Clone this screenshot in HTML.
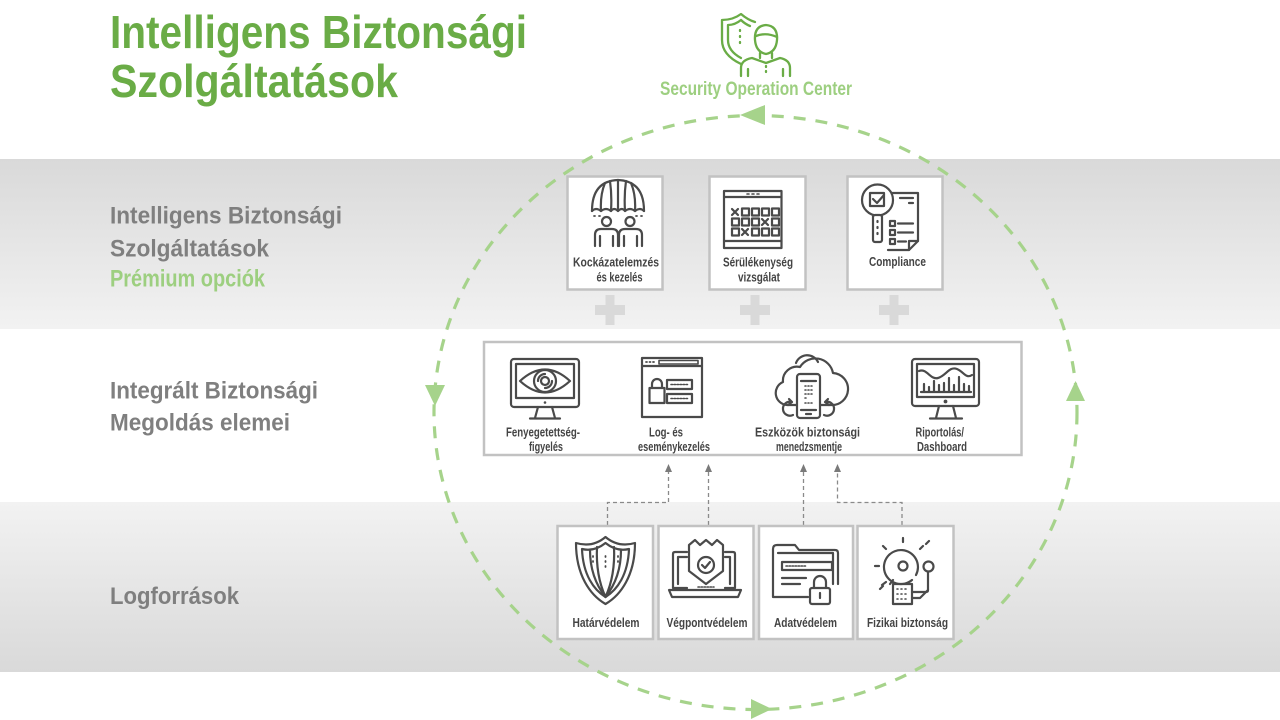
<!DOCTYPE html>
<html><head><meta charset="utf-8"><style>
html,body{margin:0;padding:0;background:#fff;}
svg{display:block;}
text{font-family:"Liberation Sans",sans-serif;font-weight:bold;}
</style></head><body>
<svg width="1280" height="720" viewBox="0 0 1280 720" xmlns="http://www.w3.org/2000/svg">
<defs>
<linearGradient id="g1" x1="0" y1="0" x2="0" y2="1"><stop offset="0" stop-color="#d9d9d9"/><stop offset="1" stop-color="#f2f2f2"/></linearGradient>
<linearGradient id="g2" x1="0" y1="0" x2="0" y2="1"><stop offset="0" stop-color="#f2f2f2"/><stop offset="1" stop-color="#d9d9d9"/></linearGradient>
</defs>
<rect x="0" y="0" width="1280" height="720" fill="#fff"/>
<rect x="0" y="159" width="1280" height="170" fill="url(#g1)"/>
<rect x="0" y="502" width="1280" height="170" fill="url(#g2)"/>

<!-- Title -->
<text x="110" y="48" font-size="46" fill="#6aac46" textLength="417" lengthAdjust="spacingAndGlyphs">Intelligens Biztonsági</text>
<text x="110" y="97" font-size="46" fill="#6aac46" textLength="288" lengthAdjust="spacingAndGlyphs">Szolgáltatások</text>

<!-- Left labels -->
<text x="110" y="223.5" font-size="24" fill="#7f7f7f" textLength="232" lengthAdjust="spacingAndGlyphs">Intelligens Biztonsági</text>
<text x="110" y="256.5" font-size="24" fill="#7f7f7f" textLength="159" lengthAdjust="spacingAndGlyphs">Szolgáltatások</text>
<text x="110" y="286.5" font-size="24" fill="#9dcf80" textLength="155" lengthAdjust="spacingAndGlyphs">Prémium opciók</text>
<text x="110" y="398.5" font-size="24" fill="#7f7f7f" textLength="208" lengthAdjust="spacingAndGlyphs">Integrált Biztonsági</text>
<text x="110" y="430.5" font-size="24" fill="#7f7f7f" textLength="180" lengthAdjust="spacingAndGlyphs">Megoldás elemei</text>
<text x="110" y="604" font-size="24" fill="#7f7f7f" textLength="129" lengthAdjust="spacingAndGlyphs">Logforrások</text>

<!-- Dashed cycle ellipse -->
<ellipse cx="755.5" cy="412.5" rx="321.5" ry="297" fill="none" stroke="#a6d38b" stroke-width="3.2" stroke-dasharray="12 10"/>
<g fill="#a6d38b">
<polygon points="740,115 765,105 765,125"/>
<polygon points="425,385 445,385 435,406"/>
<polygon points="751,699 751,719 772,709"/>
<polygon points="1066,401 1085,401 1075.5,381"/>
</g>

<!-- SOC icon -->
<g fill="none" stroke="#6aac46" stroke-width="2.3" stroke-linecap="round" stroke-linejoin="round">
<path d="M755 22 Q748 20 741 14 Q733 20 722 20 V40 Q722 55 741 64"/>
<path d="M750 26 Q745 24 741 20 Q735 25 728 25 V40 Q728 51 741 58"/>
<path d="M740 30 V31 M740 36 V37 M740 42 V43"/>
<path d="M755 40 Q754 26 766 25 Q778 26 777 40 Q776 52 766 54 Q756 52 755 40 Z"/>
<path d="M756 36 Q766 32 777 37"/>
<path d="M760 53 V58 M772 53 V58"/>
<path d="M741 76 V68 Q741 60 752 58 L766 63 L780 58 Q790 60 790 68 V76"/>
<path d="M748 76 V69 M783 76 V69"/>
<path d="M766 66 V67 M766 71 V72"/>
</g>
<text x="660" y="95" font-size="19" fill="#9dcf80" textLength="192" lengthAdjust="spacingAndGlyphs">Security Operation Center</text>

<!-- Top boxes -->
<g fill="#fff" stroke="#c2c2c2" stroke-width="2.5">
<rect x="567.5" y="176.5" width="95" height="113"/>
<rect x="709.5" y="176.5" width="96" height="113"/>
<rect x="847.5" y="176.5" width="95" height="113"/>
</g>
<!-- plus signs -->
<g fill="#d9d9d9">
<rect x="595" y="305" width="30" height="10"/><rect x="605.5" y="295" width="9" height="30"/>
<rect x="740" y="305" width="30" height="10"/><rect x="750.5" y="295" width="9" height="30"/>
<rect x="879" y="305" width="30" height="10"/><rect x="889.5" y="295" width="9" height="30"/>
</g>

<g fill="none" stroke="#4a4a4a" stroke-width="2.2" stroke-linecap="round" stroke-linejoin="round">
<!-- umbrella people -->
<path d="M592 211 Q592 181 618 180 Q644 181 644 211"/>
<path d="M618 180 V211 M605 183 Q600 195 601 211 M631 183 Q636 195 635 211 M610 181 Q612 195 611 211 M626 181 Q624 195 625 211"/>
<path d="M592 211 Q596 207 601 211 Q606 207 611 211 Q614 207 618 211 Q622 207 625 211 Q630 207 635 211 Q640 207 644 211"/>
<path d="M594 216 H595 M599 216 H600 M636 216 H637 M641 216 H642" stroke-width="1.8"/>
<circle cx="606.5" cy="221.5" r="4.5"/>
<circle cx="630" cy="221.5" r="4.5"/>
<path d="M595 246 V235 Q595 229 601 229 H612 Q618 229 618 235 V246"/>
<path d="M619 246 V235 Q619 229 625 229 H636 Q642 229 642 235 V246"/>
<path d="M600 246 V236 M613 246 V236 M624 246 V236 M637 246 V236"/>
<!-- calendar -->
<rect x="724" y="191" width="57.5" height="57"/>
<path d="M724 197 H781.5 M724 241 H781.5"/>
<path d="M747 194 H749 M752 194 H754 M757 194 H759" stroke-width="1.6"/>
<path d="M732 209 L738 215 M738 209 L732 215"/>
<rect x="742" y="208.5" width="7" height="7"/><rect x="752" y="208.5" width="7" height="7"/><rect x="762" y="208.5" width="7" height="7"/><rect x="772" y="208.5" width="7" height="7"/>
<rect x="732" y="218.5" width="7" height="7"/><rect x="742" y="218.5" width="7" height="7"/><rect x="752" y="218.5" width="7" height="7"/>
<path d="M762 219 L768 225 M768 219 L762 225"/>
<rect x="772" y="218.5" width="7" height="7"/>
<rect x="732" y="228.5" width="7" height="7"/>
<path d="M742 229 L748 235 M748 229 L742 235"/>
<rect x="752" y="228.5" width="7" height="7"/><rect x="762" y="228.5" width="7" height="7"/><rect x="772" y="228.5" width="7" height="7"/>
<!-- compliance -->
<path d="M888 193 H918 V241 L909 250 H888"/>
<path d="M918 241 H909 V250"/>
<path d="M900 198 H913 M909 203 H913"/>
<rect x="890" y="221" width="5" height="5"/><rect x="890" y="230" width="5" height="5"/><rect x="890" y="239" width="5" height="5"/>
<path d="M898 223.5 H913 M898 232.5 H913 M898 241.5 H906"/>
<circle cx="877.5" cy="200" r="15.5" fill="#fff"/>
<rect x="870" y="193" width="14" height="13"/>
<path d="M873 199 L877 203 L884 195"/>
<rect x="873" y="215" width="9" height="27" rx="2" fill="#fff"/>
<path d="M877.5 221 V222 M877.5 227 V228 M877.5 233 V234"/>
</g>
<g font-size="12.5" fill="#444">
<text x="573" y="266.5" textLength="86" lengthAdjust="spacingAndGlyphs">Kockázatelemzés</text>
<text x="596.5" y="281.5" textLength="46" lengthAdjust="spacingAndGlyphs">és kezelés</text>
<text x="723" y="266.5" textLength="70" lengthAdjust="spacingAndGlyphs">Sérülékenység</text>
<text x="738" y="281.5" textLength="42" lengthAdjust="spacingAndGlyphs">vizsgálat</text>
<text x="869" y="266" textLength="57" lengthAdjust="spacingAndGlyphs">Compliance</text>
</g>

<!-- Middle box -->
<rect x="484" y="342" width="537.5" height="113" fill="#fff" stroke="#c2c2c2" stroke-width="2.5"/>
<g fill="none" stroke="#4a4a4a" stroke-width="2.2" stroke-linecap="round" stroke-linejoin="round">
<!-- eye monitor -->
<rect x="511" y="359" width="68" height="48" rx="3"/>
<rect x="516" y="364" width="58" height="34"/>
<path d="M538 407 L535 418 M552 407 L555 418 M530 418.5 H560"/>
<path d="M520 381 Q545 358 570 381 Q545 404 520 381 Z"/>
<circle cx="545" cy="381" r="11"/>
<circle cx="545" cy="381" r="4"/>
<path d="M538 381 A7 7 0 0 1 545 374 M552 381 A7 7 0 0 1 545 388"/>
<!-- log window -->
<rect x="642" y="358" width="60" height="59"/>
<path d="M642 366 H702"/>
<path d="M646 362 H647 M649.5 362 H650.5 M653 362 H654" stroke-width="1.8"/>
<rect x="659" y="360.5" width="39" height="3.5" stroke-width="1.6"/>
<path d="M652 388 V384 A5 5 0 0 1 662 384 V388"/>
<rect x="649.5" y="388" width="15" height="15"/>
<rect x="667" y="380" width="25" height="9"/>
<rect x="667" y="394" width="25" height="9"/>
<path d="M671 384.5 H688 M671 398.5 H688" stroke-width="1.6" stroke-dasharray="1.5 1.5"/>
<!-- cloud phone -->
<path d="M796 405 H787 A12 12 0 0 1 783 382 A14 14 0 0 1 800 367 A18 18 0 0 1 833 373 A13 13 0 0 1 831 405 H821"/>
<path d="M796 363 A12 12 0 0 1 818 362"/>
<rect x="797" y="374" width="23" height="44" rx="3" fill="#fff"/>
<path d="M801 381 H816 M801 410 H816"/>
<path d="M805 386 H806 M808 386 H809 M811 386 H812 M805 390 H806 M808 390 H809 M811 390 H812 M805 394 H806 M808 394 H809 M811 394 H812 M805 398 H806 M805 403 H806 M808 403 H809 M811 403 H812" stroke-width="1.6"/>
<path d="M806 414 H811"/>
<path d="M792 402 A7 7 0 1 0 793 415 M789 399 L792 402 L788 405"/>
<path d="M825 402 A7 7 0 1 1 824 415 M828 399 L825 402 L829 405"/>
<!-- dashboard monitor -->
<rect x="912" y="359" width="67" height="47" rx="3"/>
<rect x="917" y="364" width="57" height="33"/>
<path d="M939 406 L936 418 M953 406 L956 418 M930 418.5 H962"/>
<circle cx="945.5" cy="401.5" r="0.8" fill="#4a4a4a"/>
<path d="M919 371 C927 368 930 380 938 378 C946 376 949 366 957 369 C964 372 966 379 972 375"/>
<path d="M921 392 H971 M924 392 V384 M929 392 V387 M934 392 V381 M939 392 V385 M944 392 V383 M949 392 V378 M954 392 V385 M959 392 V377 M964 392 V384 M969 392 V386"/>
</g>
<circle cx="545" cy="402.5" r="1.3" fill="#4a4a4a"/>
<g font-size="12.5" fill="#444">
<text x="506" y="436.5" textLength="74" lengthAdjust="spacingAndGlyphs">Fenyegetettség-</text>
<text x="529" y="451" textLength="34" lengthAdjust="spacingAndGlyphs">figyelés</text>
<text x="649" y="436.5" textLength="34" lengthAdjust="spacingAndGlyphs">Log- és</text>
<text x="638" y="451" textLength="72" lengthAdjust="spacingAndGlyphs">eseménykezelés</text>
<text x="755" y="436.5" textLength="105" lengthAdjust="spacingAndGlyphs">Eszközök biztonsági</text>
<text x="776" y="451" textLength="66" lengthAdjust="spacingAndGlyphs">menedzsmentje</text>
<text x="915.5" y="436.5" textLength="48.5" lengthAdjust="spacingAndGlyphs">Riportolás/</text>
<text x="917" y="451" textLength="50" lengthAdjust="spacingAndGlyphs">Dashboard</text>
</g>

<!-- Dashed connectors -->
<g fill="none" stroke="#8a8a8a" stroke-width="1.3" stroke-dasharray="4 3">
<path d="M607.5 525 V502.5 H668.5 V471"/>
<path d="M708.5 525 V471"/>
<path d="M803.5 525 V471"/>
<path d="M902 525 V502.5 H837.5 V471"/>
</g>
<g fill="#7a7a7a">
<polygon points="665,472 672,472 668.5,464"/>
<polygon points="705,472 712,472 708.5,464"/>
<polygon points="800,472 807,472 803.5,464"/>
<polygon points="834,472 841,472 837.5,464"/>
</g>

<!-- Bottom boxes -->
<g fill="#fff" stroke="#c2c2c2" stroke-width="2.5">
<rect x="557.5" y="526" width="95.5" height="113"/>
<rect x="658.5" y="526" width="95" height="113"/>
<rect x="759" y="526" width="94" height="113"/>
<rect x="857.5" y="526" width="96" height="113"/>
</g>
<g fill="none" stroke="#4a4a4a" stroke-width="2.2" stroke-linecap="round" stroke-linejoin="round">
<!-- shield -->
<path d="M605.5 537 C596 545 586 546 576 543 C576 575 590 595 605.5 604 C621 595 635 575 635 543 C625 546 615 545 605.5 537 Z"/>
<path d="M605.5 543 C598 549 590 551 582 549 C583 575 594 590 605.5 597 C617 590 628 575 629 549 C621 551 613 549 605.5 543 Z"/>
<path d="M590 550 C590 570 596 585 605.5 597 C615 585 621 570 621 550"/>
<path d="M597 547 C596 568 600 585 605.5 597 C611 585 615 568 614 547"/>
<path d="M605.5 556 V557 M605.5 561 V562 M605.5 566 V567 M593 556 V557 M593 561 V562 M618 556 V557 M618 561 V562" stroke-width="1.8"/>
<!-- laptop -->
<path d="M687 588 H673 V554 Q673 552 675 552 H687 M725 552 H733 Q735 552 735 554 V588 H725"/>
<path d="M678 584 V557 H687 M725 557 H730 V584"/>
<path d="M669 590 H741 L738 597 H672 Z"/>
<path d="M689 545 L695 540 L700 545 L706 540 L712 545 L717 540 L723 545 V571 L706 584 L689 571 Z"/>
<circle cx="706" cy="565" r="8"/>
<path d="M702 565 L705 568 L710 562"/>
<path d="M698 587 H714" stroke-width="1.6" stroke-dasharray="1.5 1.5"/>
<!-- folder -->
<path d="M808 597 H773 V549 Q773 545 777 545 H795 L799 550 H835 Q838 550 838 553 V584"/>
<path d="M778 553 H833 V584"/>
<rect x="782" y="562" width="50" height="8"/>
<path d="M786 566 H806" stroke-width="1.6" stroke-dasharray="1.5 1.5"/>
<path d="M782 578 H806 M782 584 H800"/>
<path d="M814 588 V582 A6 6 0 0 1 826 582 V588"/>
<rect x="810" y="588" width="20" height="16" rx="2" fill="#fff"/>
<path d="M820 593 V598"/>
<!-- bell -->
<path d="M912 580 A17 17 0 1 1 916 575"/>
<circle cx="903" cy="566" r="4.5"/>
<path d="M903 542 V538 M886 549 L883 546 M920 549 L923 546 M879 566 H875 M893 580 L890 584 M883 586 L880 589 M926 544 L929 541 M886 582 L882 585" />
<rect x="893" y="584" width="19" height="20"/>
<path d="M897 589 H898 M901 589 H902 M905 589 H906 M897 594 H898 M901 594 H902 M905 594 H906 M897 599 H898 M901 599 H902 M905 599 H906" stroke-width="1.6"/>
<path d="M912 592 H926 Q928 592 928 590 V572"/>
<path d="M912 598 H920 L928 590"/>
<circle cx="928.5" cy="566.5" r="5"/>
</g>
<g font-size="12.5" fill="#444">
<text x="572.5" y="627" textLength="67" lengthAdjust="spacingAndGlyphs">Határvédelem</text>
<text x="666.5" y="627" textLength="81" lengthAdjust="spacingAndGlyphs">Végpontvédelem</text>
<text x="774" y="627" textLength="63" lengthAdjust="spacingAndGlyphs">Adatvédelem</text>
<text x="867" y="627" textLength="81" lengthAdjust="spacingAndGlyphs">Fizikai biztonság</text>
</g>
</svg>
</body></html>
